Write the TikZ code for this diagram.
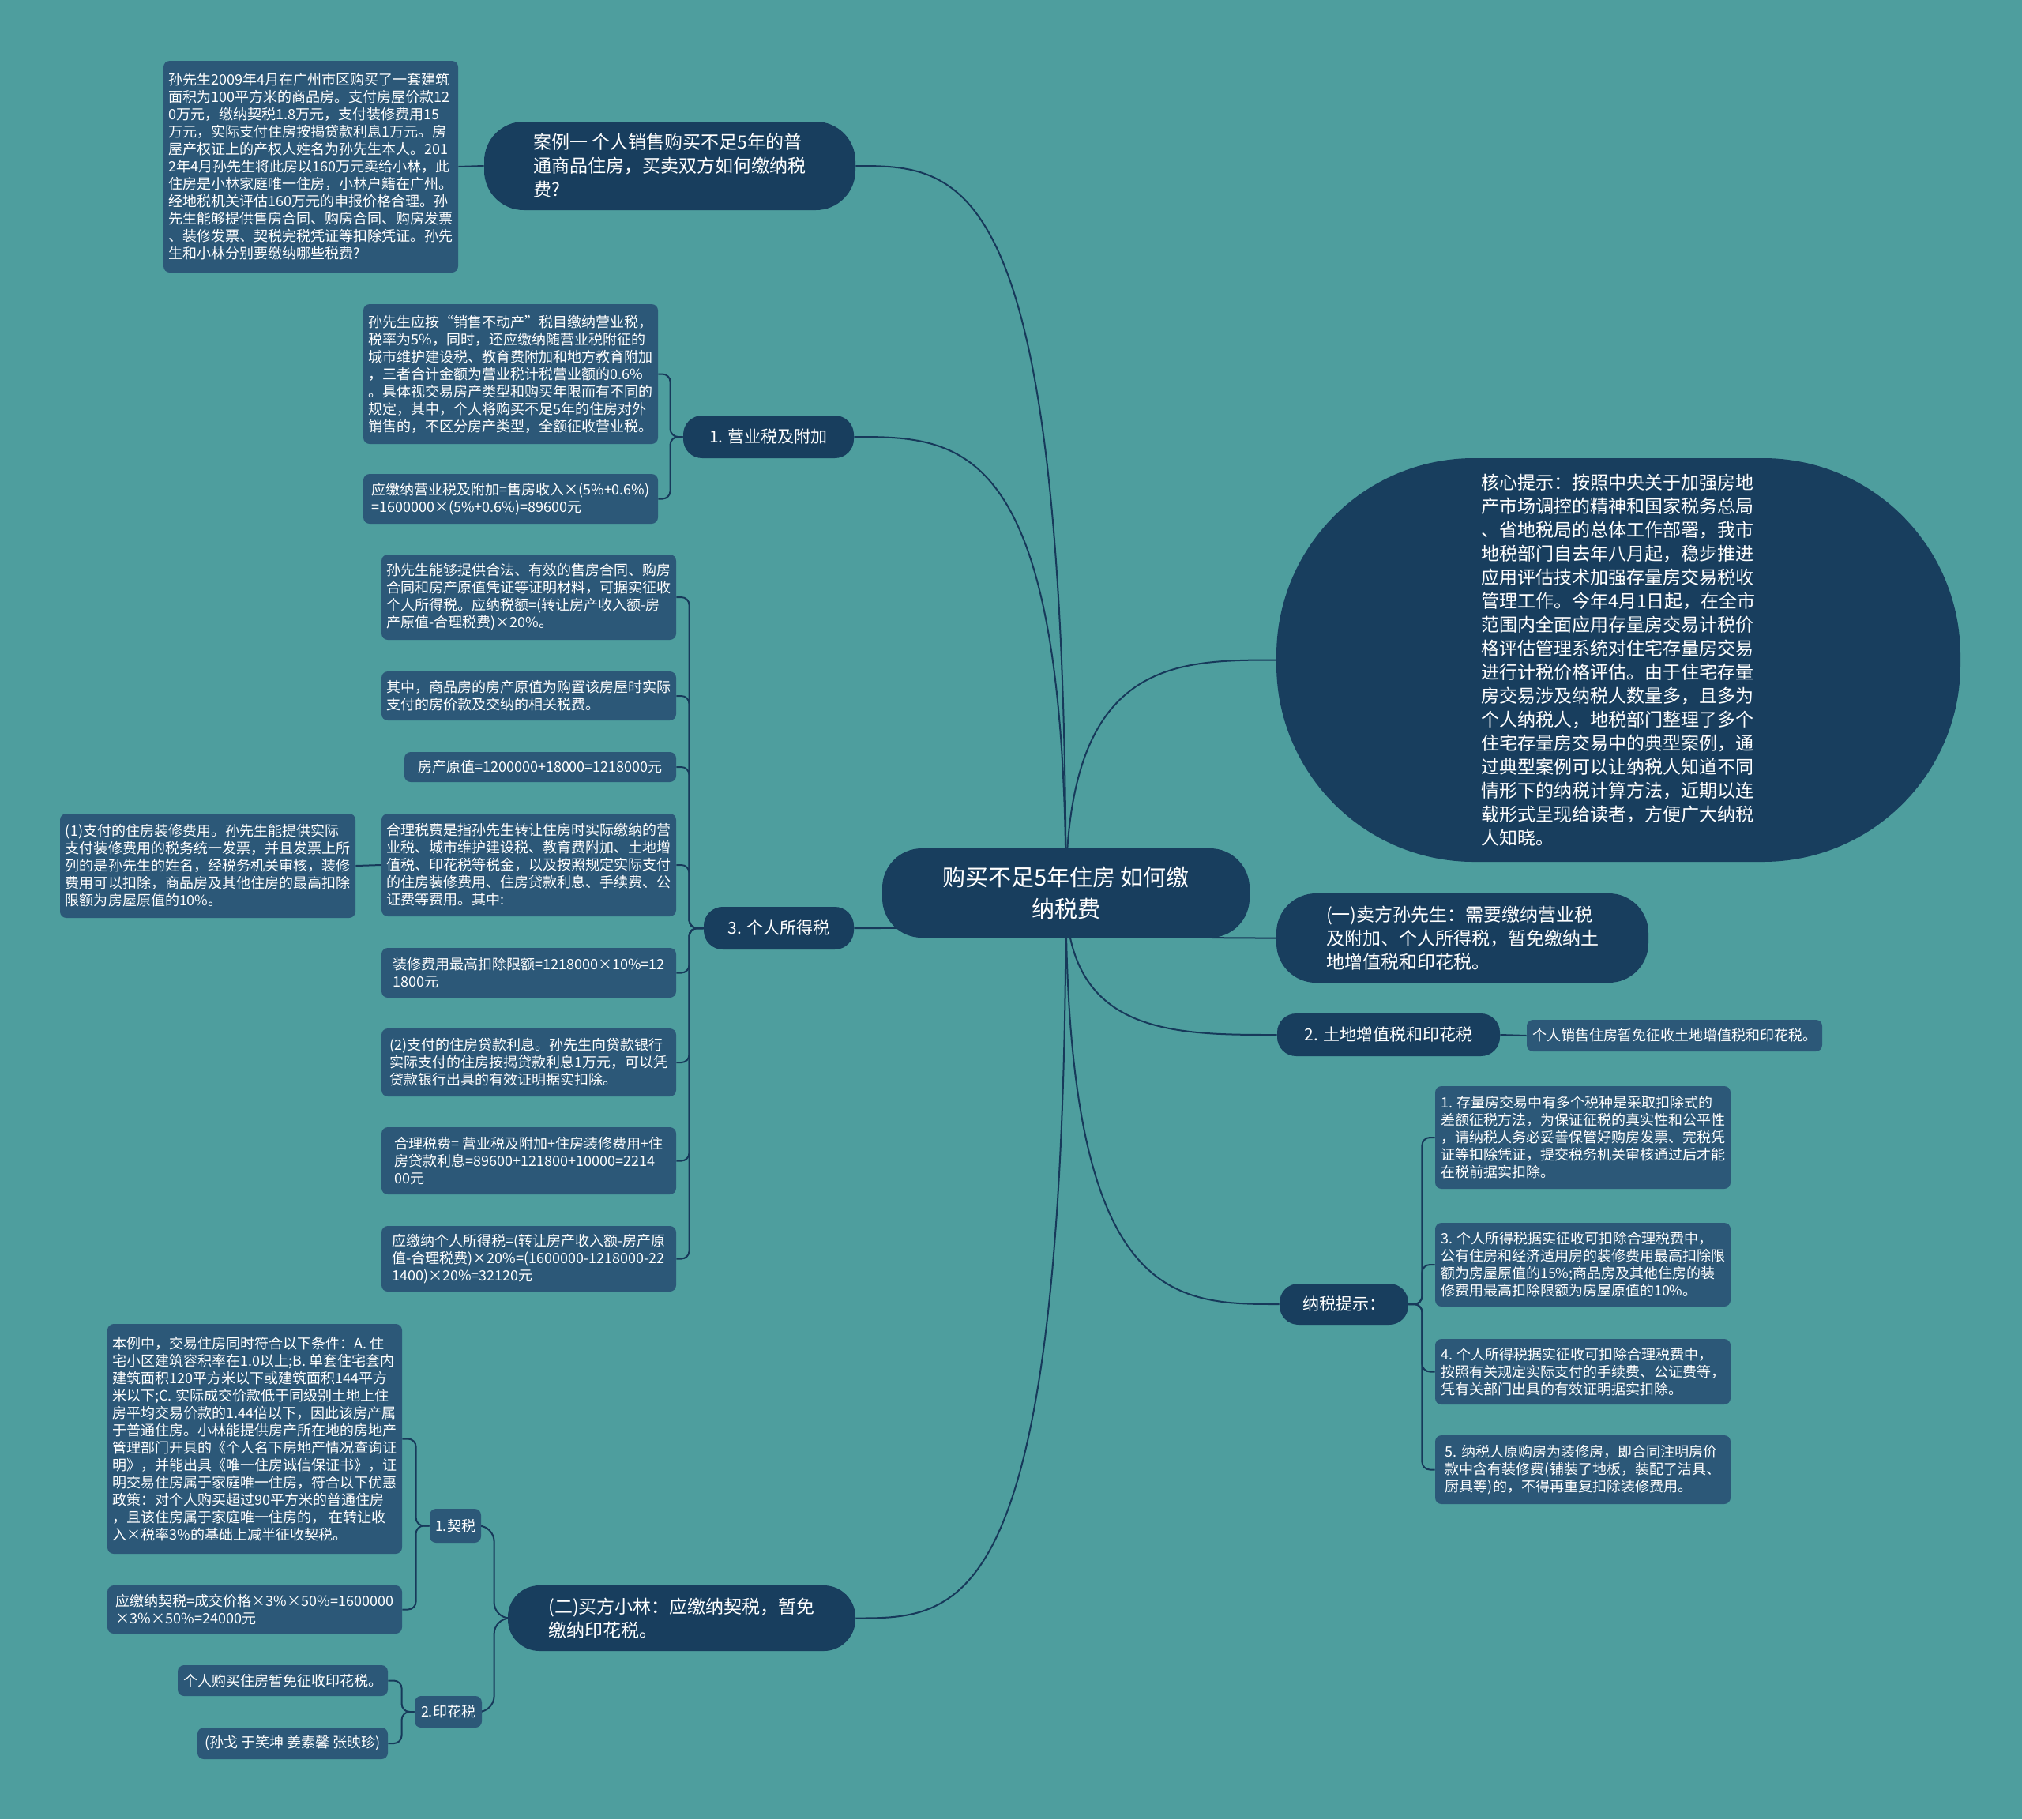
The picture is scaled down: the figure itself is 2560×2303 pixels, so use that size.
\documentclass[tikz,border=0pt]{standalone}
\usepackage{fontspec}
\setmainfont{Noto Sans CJK SC}
\definecolor{bgc}{HTML}{4E9E9E}
\definecolor{mainc}{HTML}{183E5E}
\definecolor{leafc}{HTML}{2C5878}
\definecolor{linec}{HTML}{17395A}
\pgfdeclarelayer{bglayer}
\pgfdeclarelayer{linelayer}
\pgfsetlayers{bglayer,linelayer,main}
\newcommand\lbox[1]{\vbox{\let\\\cr\halign{##\hfil\cr#1\crcr}}}
\newcommand\cbox[1]{\vbox{\let\\\cr\halign{\hfil##\hfil\cr#1\crcr}}}
\begin{document}
\begin{tikzpicture}[x=0.5pt,y=-0.5pt,
  bx/.style args={#1,#2,#3,#4}{at={({(#1+#3)/2},{(#2+#4)/2})}, anchor=center, minimum width={(#3-#1)*0.5pt}, minimum height={(#4-#2)*0.5pt}},
  leaf/.style={fill=leafc, rounded corners=4pt, inner sep=0pt, text=white, font=\fontsize{9}{11}\selectfont},
  mainbox/.style={fill=mainc, inner sep=0pt, text=white, font=\fontsize{11.5}{15}\selectfont},
  branch/.style={fill=mainc, inner sep=0pt, text=white, font=\fontsize{10.5}{13}\selectfont, rounded corners=12pt},
  conn/.style={draw=linec, line width=1pt},
  brk/.style={conn, rounded corners=5pt},
]
\begin{pgfonlayer}{bglayer}
\fill[bgc] (0,0) rectangle (2560,2303);
\end{pgfonlayer}
\useasboundingbox (0,0) rectangle (2560,2303);

% center
\node[mainbox, rounded corners=25pt, font=\fontsize{14.5}{20}\selectfont, bx={1117,1074,1582,1187}] (center) {\cbox{购买不足5年住房 如何缴\\纳税费}};

% case
\node[mainbox, rounded corners=25pt, bx={613,154,1083,266}] (casenode) {\lbox{案例一 个人销售购买不足5年的普\\通商品住房，买卖双方如何缴纳税\\费?}};
\node[leaf, bx={207,77,580,345}] (caseleaf) {\lbox{孙先生2009年4月在广州市区购买了一套建筑\\面积为100平方米的商品房。支付房屋价款12\\0万元，缴纳契税1.8万元，支付装修费用15\\万元，实际支付住房按揭贷款利息1万元。房\\屋产权证上的产权人姓名为孙先生本人。201\\2年4月孙先生将此房以160万元卖给小林，此\\住房是小林家庭唯一住房，小林户籍在广州。\\经地税机关评估160万元的申报价格合理。孙\\先生能够提供售房合同、购房合同、购房发票\\、装修发票、契税完税凭证等扣除凭证。孙先\\生和小林分别要缴纳哪些税费?}};

% 1. business tax
\node[branch, bx={865,526,1081,580}] (yys) {1. 营业税及附加};
\node[leaf, bx={460,385,833,562}] (yysA) {\lbox{孙先生应按“销售不动产”税目缴纳营业税，\\税率为5\%，同时，还应缴纳随营业税附征的\\城市维护建设税、教育费附加和地方教育附加\\，三者合计金额为营业税计税营业额的0.6\%\\。具体视交易房产类型和购买年限而有不同的\\规定，其中，个人将购买不足5年的住房对外\\销售的，不区分房产类型，全额征收营业税。}};
\node[leaf, bx={460,600,833,663}] (yysB) {\lbox{应缴纳营业税及附加=售房收入×(5\%+0.6\%)\\=1600000×(5\%+0.6\%)=89600元}};

% 3. PIT
\node[branch, bx={891,1148,1081,1202}] (pit) {3. 个人所得税};
\node[leaf, bx={483,702,856,810}] (pa) {\lbox{孙先生能够提供合法、有效的售房合同、购房\\合同和房产原值凭证等证明材料，可据实征收\\个人所得税。应纳税额=(转让房产收入额-房\\产原值-合理税费)×20\%。}};
\node[leaf, bx={483,850,856,912}] (pb) {\lbox{其中，商品房的房产原值为购置该房屋时实际\\支付的房价款及交纳的相关税费。}};
\node[leaf, bx={512,952,856,990}] (pc) {房产原值=1200000+18000=1218000元};
\node[leaf, bx={483,1030,856,1160}] (pd) {\lbox{合理税费是指孙先生转让住房时实际缴纳的营\\业税、城市维护建设税、教育费附加、土地增\\值税、印花税等税金，以及按照规定实际支付\\的住房装修费用、住房贷款利息、手续费、公\\证费等费用。其中:}};
\node[leaf, bx={76,1030,450,1162}] (pdone) {\lbox{(1)支付的住房装修费用。孙先生能提供实际\\支付装修费用的税务统一发票，并且发票上所\\列的是孙先生的姓名，经税务机关审核，装修\\费用可以扣除，商品房及其他住房的最高扣除\\限额为房屋原值的10\%。}};
\node[leaf, bx={483,1200,856,1263}] (pe) {\lbox{装修费用最高扣除限额=1218000×10\%=12\\1800元}};
\node[leaf, bx={483,1302,856,1388}] (pf) {\lbox{(2)支付的住房贷款利息。孙先生向贷款银行\\实际支付的住房按揭贷款利息1万元，可以凭\\贷款银行出具的有效证明据实扣除。}};
\node[leaf, bx={483,1427,856,1512}] (pg) {\lbox{合理税费= 营业税及附加+住房装修费用+住\\房贷款利息=89600+121800+10000=2214\\00元}};
\node[leaf, bx={483,1552,856,1635}] (ph) {\lbox{应缴纳个人所得税=(转让房产收入额-房产原\\值-合理税费)×20\%=(1600000-1218000-22\\1400)×20\%=32120元}};

% buyer
\node[mainbox, rounded corners=20pt, bx={643,2007,1083,2090}] (buyer) {\lbox{(二)买方小林：应缴纳契税，暂免\\缴纳印花税。}};
\node[leaf, bx={544,1910,609,1953}] (qs) {1.契税};
\node[leaf, bx={136,1676,509,1967}] (qsA) {\lbox{本例中，交易住房同时符合以下条件：A. 住\\宅小区建筑容积率在1.0以上;B. 单套住宅套内\\建筑面积120平方米以下或建筑面积144平方\\米以下;C. 实际成交价款低于同级别土地上住\\房平均交易价款的1.44倍以下，因此该房产属\\于普通住房。小林能提供房产所在地的房地产\\管理部门开具的《个人名下房地产情况查询证\\明》，并能出具《唯一住房诚信保证书》，证\\明交易住房属于家庭唯一住房，符合以下优惠\\政策：对个人购买超过90平方米的普通住房\\，且该住房属于家庭唯一住房的， 在转让收\\入×税率3\%的基础上减半征收契税。}};
\node[leaf, bx={136,2007,509,2068}] (qsB) {\lbox{应缴纳契税=成交价格×3\%×50\%=1600000\\×3\%×50\%=24000元}};
\node[leaf, bx={525,2147,610,2187}] (yhs) {2.印花税};
\node[leaf, bx={225,2108,491,2147}] (yhsA) {个人购买住房暂免征收印花税。};
\node[leaf, bx={250,2187,491,2227}] (yhsB) {(孙戈 于笑坤 姜素馨 张映珍)};

% right side
\node[mainbox, rounded corners=125pt, bx={1616,580,2482,1091}] (core) {\lbox{核心提示：按照中央关于加强房地\\产市场调控的精神和国家税务总局\\、省地税局的总体工作部署，我市\\地税部门自去年八月起，稳步推进\\应用评估技术加强存量房交易税收\\管理工作。今年4月1日起，在全市\\范围内全面应用存量房交易计税价\\格评估管理系统对住宅存量房交易\\进行计税价格评估。由于住宅存量\\房交易涉及纳税人数量多，且多为\\个人纳税人，地税部门整理了多个\\住宅存量房交易中的典型案例，通\\过典型案例可以让纳税人知道不同\\情形下的纳税计算方法，近期以连\\载形式呈现给读者，方便广大纳税\\人知晓。}};
\node[mainbox, rounded corners=25pt, bx={1616,1131,2087,1244}] (seller) {\lbox{(一)卖方孙先生：需要缴纳营业税\\及附加、个人所得税，暂免缴纳土\\地增值税和印花税。}};
\node[branch, bx={1617,1283,1899,1337}] (land) {2. 土地增值税和印花税};
\node[leaf, bx={1933,1291,2307,1331}] (landA) {个人销售住房暂免征收土地增值税和印花税。};
\node[branch, bx={1620,1625,1783,1677}] (tips) {纳税提示：};
\node[leaf, bx={1817,1375,2191,1505}] (tA) {\lbox{1. 存量房交易中有多个税种是采取扣除式的\\差额征税方法，为保证征税的真实性和公平性\\，请纳税人务必妥善保管好购房发票、完税凭\\证等扣除凭证，提交税务机关审核通过后才能\\在税前据实扣除。}};
\node[leaf, bx={1817,1548,2191,1654}] (tB) {\lbox{3. 个人所得税据实征收可扣除合理税费中，\\公有住房和经济适用房的装修费用最高扣除限\\额为房屋原值的15\%;商品房及其他住房的装\\修费用最高扣除限额为房屋原值的10\%。}};
\node[leaf, bx={1817,1695,2191,1778}] (tC) {\lbox{4. 个人所得税据实征收可扣除合理税费中，\\按照有关规定实际支付的手续费、公证费等，\\凭有关部门出具的有效证明据实扣除。}};
\node[leaf, bx={1817,1817,2191,1904}] (tD) {\lbox{5. 纳税人原购房为装修房，即合同注明房价\\款中含有装修费(铺装了地板，装配了洁具、\\厨具等)的，不得再重复扣除装修费用。}};

\begin{pgfonlayer}{linelayer}
% center to branches
\draw[conn] (center.center) .. controls +(0,-920) and +(135,0) .. (casenode.east);
\draw[conn] (center.center) .. controls +(0,-577) and +(135,0) .. (yys.east);
\draw[conn] (center.center) .. controls +(0,45) and +(135,0) .. (pit.east);
\draw[conn] (center.center) .. controls +(0,918) and +(135,0) .. (buyer.east);
\draw[conn] (center.center) .. controls +(0,-294) and +(-132,0) .. (core.west);
\draw[conn] (center.center) .. controls +(0,57) and +(-132,0) .. (seller.west);
\draw[conn] (center.center) .. controls +(0,180) and +(-132,0) .. (land.west);
\draw[conn] (center.center) .. controls +(0,521) and +(-134,0) .. (tips.west);
% leaves
\draw[conn] (casenode.west) -- (caseleaf.east);
\foreach \c in {yysA,yysB} \draw[brk] (yys.west) -- ++(-16,0) |- (\c.east);
\foreach \c in {pa,pb,pc,pd,pe,pf,pg,ph} \draw[brk] (pit.west) -- ++(-18,0) |- (\c.east);
\draw[conn] (pd.west) -- (pdone.east);
\draw[conn, rounded corners=10pt] (buyer.west) -- ++(-17,0) |- (qs.east);
\draw[conn, rounded corners=10pt] (buyer.west) -- ++(-17,0) |- (yhs.east);
\foreach \c in {qsA,qsB} \draw[brk] (qs.west) -- ++(-17,0) |- (\c.east);
\foreach \c in {yhsA,yhsB} \draw[brk] (yhs.west) -- ++(-16,0) |- (\c.east);
\draw[conn] (land.east) -- (landA.west);
\foreach \c in {tA,tB,tC,tD} \draw[brk] (tips.east) -- ++(17,0) |- (\c.west);
\end{pgfonlayer}
\end{tikzpicture}
\end{document}
